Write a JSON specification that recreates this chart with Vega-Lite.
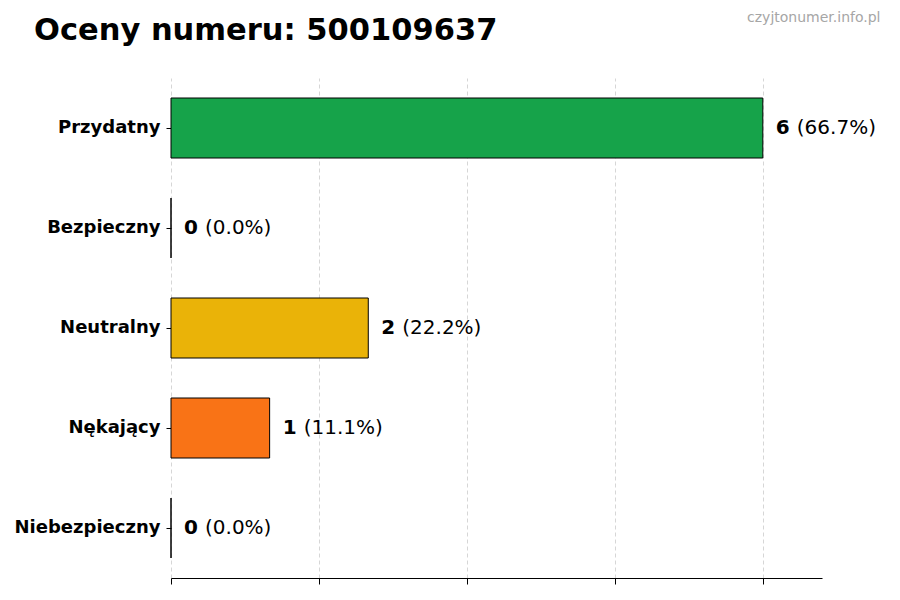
{
  "$schema": "https://vega.github.io/schema/vega-lite/v6.json",
  "width": 651,
  "height": 500,
  "autosize": "none",
  "padding": {"left": 171, "top": 78, "right": 78, "bottom": 22},
  "background": "white",
  "title": {
    "text": "Oceny numeru: 500109637",
    "anchor": "start",
    "frame": "group",
    "font": "DejaVu Sans",
    "fontSize": 30.5,
    "fontWeight": "bold",
    "color": "black",
    "baseline": "alphabetic",
    "dx": -137,
    "dy": 60,
    "offset": 0
  },
  "config": {
    "view": {"stroke": null},
    "font": "DejaVu Sans"
  },
  "data": {
    "values": [
      {"label": "Przydatny", "count": 6, "pct": "(66.7%)", "color": "#16a34a"},
      {"label": "Bezpieczny", "count": 0, "pct": "(0.0%)", "color": "#3b82f6"},
      {"label": "Neutralny", "count": 2, "pct": "(22.2%)", "color": "#eab308"},
      {"label": "Nękający", "count": 1, "pct": "(11.1%)", "color": "#f97316"},
      {"label": "Niebezpieczny", "count": 0, "pct": "(0.0%)", "color": "#dc2626"}
    ]
  },
  "encoding": {
    "y": {
      "field": "label",
      "type": "nominal",
      "sort": null,
      "scale": {"paddingInner": 0.4, "paddingOuter": 0.2},
      "axis": {
        "title": "czyjtonumer.info.pl",
        "titleAngle": 0,
        "titleX": 709,
        "titleY": -61,
        "titleAlign": "right",
        "titleBaseline": "middle",
        "titleFont": "DejaVu Sans",
        "titleFontSize": 14,
        "titleFontWeight": "normal",
        "titleColor": "#a6a6a6",
        "domain": false,
        "ticks": true,
        "tickSize": 5,
        "tickColor": "black",
        "labelFont": "DejaVu Sans",
        "labelFontSize": 18,
        "labelFontWeight": "bold",
        "labelColor": "black",
        "labelPadding": 6
      }
    },
    "x": {
      "field": "count",
      "type": "quantitative",
      "scale": {"domain": [0, 6.6], "nice": false, "zero": true},
      "axis": {
        "title": null,
        "values": [0, 1.5, 3, 4.5, 6],
        "labels": false,
        "ticks": true,
        "tickSize": 6,
        "tickColor": "black",
        "domain": true,
        "domainColor": "black",
        "domainWidth": 1.2,
        "grid": true,
        "gridColor": "#cccccc",
        "gridDash": [4, 3],
        "gridWidth": 0.8
      }
    }
  },
  "layer": [
    {
      "mark": {"type": "bar", "stroke": "black", "strokeWidth": 1},
      "encoding": {
        "color": {"field": "color", "type": "nominal", "scale": null}
      }
    },
    {
      "mark": {
        "type": "text",
        "align": "left",
        "baseline": "middle",
        "dx": 13,
        "font": "DejaVu Sans",
        "fontSize": 20,
        "fontWeight": "bold",
        "color": "black"
      },
      "encoding": {
        "text": {"field": "count", "type": "quantitative"}
      }
    },
    {
      "mark": {
        "type": "text",
        "align": "left",
        "baseline": "middle",
        "dx": 34,
        "font": "DejaVu Sans",
        "fontSize": 20,
        "color": "black"
      },
      "encoding": {
        "text": {"field": "pct", "type": "nominal"}
      }
    }
  ]
}
